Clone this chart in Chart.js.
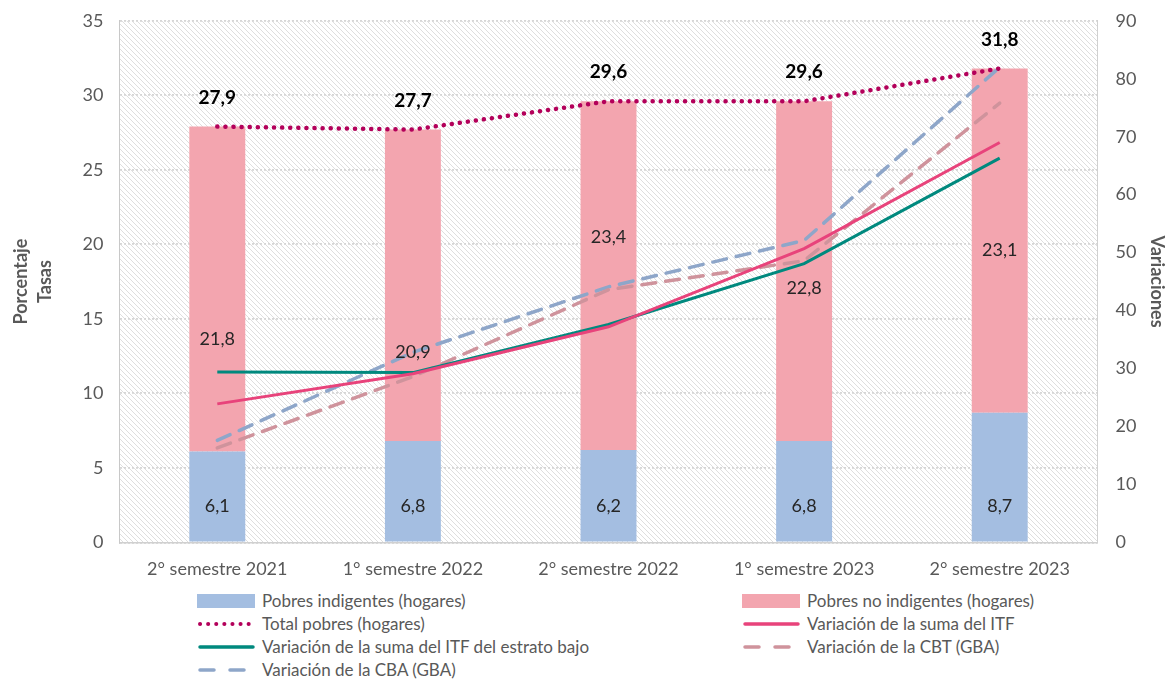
<html>
<head>
<meta charset="utf-8">
<script src="https://cdn.jsdelivr.net/npm/chart.js@4.4.0/dist/chart.umd.min.js"></script>
<style>
  body { margin: 0; background: #fff; font-family: Lato, "Open Sans", sans-serif; }
  .wrap { position: relative; width: 1168px; height: 681px; overflow: hidden; }
  #chart { position: absolute; left: 0; top: -6px; }
  .leg { position: absolute; display: flex; align-items: center; font-size: 17px; color: #595959; white-space: nowrap; }
  .sw { width: 58px; margin-right: 7px; }
</style>
</head>
<body>
<div class="wrap">
  <canvas id="chart" width="1168" height="594"></canvas>
  <div id="legend"></div>
</div>
<script>
  // categories
  let periods = ["2° semestre 2021", "1° semestre 2022", "2° semestre 2022", "1° semestre 2023", "2° semestre 2023"];

  // bars (left axis, %)
  let indigentes = [6.1, 6.8, 6.2, 6.8, 8.7];
  let noIndigentes = [21.8, 20.9, 23.4, 22.8, 23.1];
  let totalPobres = [27.9, 27.7, 29.6, 29.6, 31.8];

  // lines (right axis, variaciones)
  let varITF = [23.9, 29.1, 37.2, 50.7, 69.0];
  let varITFBajo = [29.4, 29.3, 37.6, 48.1, 66.3];
  let varCBT = [16.3, 28.6, 43.6, 48.6, 75.8];
  let varCBA = [17.6, 32.8, 44.1, 52.1, 82.0];

  // colors
  let cIndig = "#a4bee1";
  let cNoIndig = "#f3a5af";
  let cTotal = "#b3005a";
  let cITF = "#e8437b";
  let cITFBajo = "#00897e";
  let cCBT = "#cf939c";
  let cCBA = "#8ea6c9";
  let textGray = "#595959";

  Chart.defaults.font.family = "Lato, 'Open Sans', sans-serif";
  Chart.defaults.color = textGray;

  function fmt(v) { return v.toFixed(1).replace(".", ","); }

  // hatched plot background
  function makeHatch() {
    let c = document.createElement("canvas");
    c.width = 5; c.height = 5;
    let g = c.getContext("2d");
    g.strokeStyle = "#dedede";
    g.lineWidth = 1;
    g.beginPath();
    g.moveTo(-1, -1); g.lineTo(6, 6);
    g.moveTo(-4, 1); g.lineTo(4, 9);
    g.moveTo(1, -4); g.lineTo(9, 4);
    g.stroke();
    return c;
  }

  const hatchPlugin = {
    id: "hatch",
    beforeDraw(chart) {
      let { ctx, chartArea } = chart;
      ctx.save();
      ctx.fillStyle = ctx.createPattern(makeHatch(), "repeat");
      ctx.fillRect(chartArea.left, chartArea.top, chartArea.right - chartArea.left, chartArea.bottom - chartArea.top);
      ctx.restore();
    }
  };

  // value labels
  const labelPlugin = {
    id: "valueLabels",
    afterDatasetsDraw(chart, args, opts) {
      let ctx = chart.ctx;
      ctx.save();
      ctx.textAlign = "center";
      ctx.textBaseline = "middle";
      // indigentes: near base
      let m0 = chart.getDatasetMeta(0);
      ctx.font = "18px Lato, sans-serif";
      ctx.fillStyle = "#262626";
      m0.data.forEach((el, i) => {
        ctx.fillText(fmt(indigentes[i]), el.x, el.base - 35);
      });
      // no indigentes: centred, shifted off the lines
      let m1 = chart.getDatasetMeta(1);
      m1.data.forEach((el, i) => {
        let mid = (el.y + el.base) / 2 + opts.shift[i];
        ctx.fillText(fmt(noIndigentes[i]), el.x, mid);
      });
      // totals
      let m2 = chart.getDatasetMeta(2);
      ctx.font = "bold 19px Lato, sans-serif";
      ctx.fillStyle = "#000";
      m2.data.forEach((el, i) => {
        ctx.fillText(fmt(totalPobres[i]), el.x, el.y - 29);
      });
      ctx.restore();
    }
  };

  let ctx = document.getElementById("chart").getContext("2d");
  let chart = new Chart(ctx, {
    type: "bar",
    data: {
      labels: periods,
      datasets: [
        { label: "Pobres indigentes (hogares)", data: indigentes, backgroundColor: cIndig, stack: "bars", yAxisID: "y", order: 10 },
        { label: "Pobres no indigentes (hogares)", data: noIndigentes, backgroundColor: cNoIndig, stack: "bars", yAxisID: "y", order: 10 },
        { type: "line", label: "Total pobres (hogares)", data: totalPobres, borderColor: cTotal, borderWidth: 4.5, borderDash: [0.1, 8], borderCapStyle: "round", pointRadius: 0, stack: "tot", yAxisID: "y", order: 1 },
        { type: "line", label: "Variación de la suma del ITF", data: varITF, borderColor: cITF, borderWidth: 3, pointRadius: 0, yAxisID: "y1", order: 2 },
        { type: "line", label: "Variación de la suma del ITF del estrato bajo", data: varITFBajo, borderColor: cITFBajo, borderWidth: 3, pointRadius: 0, yAxisID: "y1", order: 2 },
        { type: "line", label: "Variación de la CBT (GBA)", data: varCBT, borderColor: cCBT, borderWidth: 3.5, borderDash: [14, 10], borderCapStyle: "round", pointRadius: 0, yAxisID: "y1", order: 3 },
        { type: "line", label: "Variación de la CBA (GBA)", data: varCBA, borderColor: cCBA, borderWidth: 3.5, borderDash: [14, 10], borderCapStyle: "round", pointRadius: 0, yAxisID: "y1", order: 3 },
      ],
    },
    options: {
      responsive: false,
      animation: false,
      layout: { padding: { top: 0, left: 0, right: 0, bottom: 0 } },
      datasets: { bar: { categoryPercentage: 1, barPercentage: 0.286 } },
      scales: {
        x: {
          stacked: true,
          grid: { display: false },
          border: { color: "#d0d0d0", width: 1.5 },
          ticks: { font: { size: 18 }, color: textGray, padding: 8 },
        },
        y: {
          stacked: true,
          position: "left",
          min: 0, max: 35,
          ticks: { stepSize: 5, font: { size: 18 }, color: textGray, padding: 16 },
          grid: { color: "#d6d6d6", lineWidth: 1.8, drawTicks: false },
          border: { color: "#c8c8c8", dash: [2, 2] },
          title: { display: true, text: ["Porcentaje", "Tasas"], font: { size: 18, weight: "bold", lineHeight: 1.35 }, color: textGray, padding: 9 },
        },
        y1: {
          position: "right",
          min: 0, max: 90,
          ticks: { stepSize: 10, font: { size: 18 }, color: textGray, padding: 10 },
          grid: { display: false, drawOnChartArea: false },
          border: { color: "#d0d0d0" },
          title: { display: true, text: "Variaciones", font: { size: 18, weight: "bold" }, color: textGray, padding: 0 },
        },
      },
      plugins: {
        legend: { display: false },
        tooltip: { enabled: false },
        valueLabels: { shift: [50, 67, -38, 17, 10] },
      },
    },
    plugins: [hatchPlugin, labelPlugin],
  });

  // html legend, two columns like the original
  let legendItems = [
    { ds: 0, kind: "box", col: 0, row: 0 },
    { ds: 1, kind: "box", col: 1, row: 0 },
    { ds: 2, kind: "dot", col: 0, row: 1 },
    { ds: 3, kind: "solid", col: 1, row: 1 },
    { ds: 4, kind: "solid", col: 0, row: 2 },
    { ds: 5, kind: "dash", col: 1, row: 2 },
    { ds: 6, kind: "dash", col: 0, row: 3 },
  ];
  let legendEl = document.getElementById("legend");
  legendItems.forEach((it) => {
    let ds = chart.data.datasets[it.ds];
    let d = document.createElement("div");
    d.className = "leg";
    d.style.left = (it.col === 0 ? 197 : 742) + "px";
    d.style.top = (590 + it.row * 23) + "px";
    let sw = document.createElement("canvas");
    sw.className = "sw";
    sw.width = 58; sw.height = 14;
    let g = sw.getContext("2d");
    if (it.kind === "box") {
      g.fillStyle = ds.backgroundColor;
      g.fillRect(0, 0, 58, 14);
    } else {
      g.strokeStyle = ds.borderColor;
      g.lineWidth = it.kind === "dot" ? 4 : 3.5;
      g.lineCap = "round";
      if (it.kind === "dot") g.setLineDash([0.1, 8]);
      if (it.kind === "dash") g.setLineDash([14, 16]);
      g.beginPath();
      g.moveTo(3, 7); g.lineTo(56, 7);
      g.stroke();
    }
    d.appendChild(sw);
    let t = document.createElement("span");
    t.textContent = ds.label;
    d.appendChild(t);
    legendEl.appendChild(d);
  });
</script>
</body>
</html>
